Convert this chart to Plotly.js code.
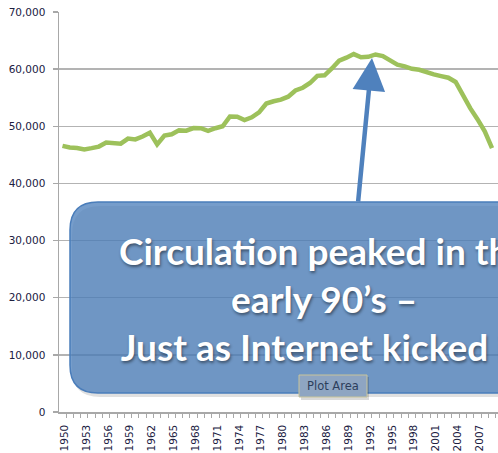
<!DOCTYPE html>
<html>
<head>
<meta charset="utf-8">
<script src="https://cdn.plot.ly/plotly-3.0.1.min.js"></script>
<style>
html,body{margin:0;padding:0;overflow:hidden;background:#fff;}
#chart{width:498px;height:453px;}
</style>
</head>
<body>
<div id="chart"></div>
<script>
// Sunday circulation (thousands), 1950-2009
const years = [1950,1951,1952,1953,1954,1955,1956,1957,1958,1959,
               1960,1961,1962,1963,1964,1965,1966,1967,1968,1969,
               1970,1971,1972,1973,1974,1975,1976,1977,1978,1979,
               1980,1981,1982,1983,1984,1985,1986,1987,1988,1989,
               1990,1991,1992,1993,1994,1995,1996,1997,1998,1999,
               2000,2001,2002,2003,2004,2005,2006,2007,2008,2009];
const circulation = [46582,46279,46210,45949,46176,46448,47162,47044,46955,47848,
                     47699,48216,48888,46830,48383,48600,49282,49224,49693,49675,
                     49217,49665,50001,51717,51679,51096,51565,52429,53990,54380,
                     54676,55180,56261,56747,57574,58826,58925,60112,61474,62008,
                     62635,62068,62160,62566,62294,61529,60798,60486,60066,59894,
                     59421,59090,58780,58495,57754,55270,53179,51246,49115,46164];
const xTickVals = [1950,1953,1956,1959,1962,1965,1968,1971,1974,1977,1980,1983,1986,1989,1992,1995,1998,2001,2004,2007];
const xTickText = xTickVals.map(String);
const yTickVals = [0,10000,20000,30000,40000,50000,60000,70000];
const yTickText = ['0','10,000','20,000','30,000','40,000','50,000','60,000','70,000'];
const calloutText = 'Circulation peaked in the<br>early 90\u2019s \u2013<br>Just as Internet kicked in';

// callout geometry (pixels -> paper)
const L = 59, W = 439, T = 12, H = 400;
const px = v => (v - L) / W;
const py = v => (T + H - v) / H;
function roundRect(x0, y0, x1, y1, r) {
  const X0 = px(x0), X1 = px(x1), Yt = py(y0), Yb = py(y1);
  const rx = r / W, ry = r / H;
  return `M ${X0+rx},${Yt} L ${X1-rx},${Yt} Q ${X1},${Yt} ${X1},${Yt-ry} L ${X1},${Yb+ry} Q ${X1},${Yb} ${X1-rx},${Yb} ` +
         `L ${X0+rx},${Yb} Q ${X0},${Yb} ${X0},${Yb+ry} L ${X0},${Yt-ry} Q ${X0},${Yt} ${X0+rx},${Yt} Z`;
}

const trace = {
  x: years, y: circulation, type: 'scatter', mode: 'lines',
  line: {color: '#9dc15b', width: 4.5},
  hoverinfo: 'skip'
};

const tickFont = {family: 'DejaVu Sans, sans-serif', size: 10.5, color: '#20203f'};

const layout = {
  width: 498, height: 453,
  margin: {l: L, r: 0, t: T, b: 453 - T - H, pad: 0},
  paper_bgcolor: '#ffffff', plot_bgcolor: '#ffffff',
  showlegend: false,
  xaxis: {
    range: [1949.52, 2009.82], tickmode: 'array', tickvals: xTickVals, ticktext: xTickText,
    tickangle: -90, tickfont: tickFont, ticks: '', showgrid: false, zeroline: false,
    showline: true, linecolor: '#a8a8a8', linewidth: 1.5,
    minor: {ticks: 'outside', ticklen: 4, tickcolor: '#a8a8a8', tickwidth: 1, tick0: 1949.5, dtick: 1, showgrid: false},
    ticklabelstandoff: 7, ticklabelshift: 2, fixedrange: true
  },
  yaxis: {
    range: [0, 70000], tickmode: 'array', tickvals: yTickVals, ticktext: yTickText,
    tickfont: tickFont, ticks: 'outside', ticklen: 5, tickcolor: '#a8a8a8', tickwidth: 1.5,
    showgrid: true, gridcolor: '#b3b3b3', gridwidth: 1.5, zeroline: false,
    showline: true, linecolor: '#a8a8a8', linewidth: 1.5, ticklabelstandoff: 5, fixedrange: true
  },
  shapes: [
    {type: 'path', xref: 'paper', yref: 'paper', layer: 'above', path: roundRect(72, 206, 584, 397, 28),
     fillcolor: 'rgba(0,0,0,0.12)', line: {width: 0}},
    {type: 'path', xref: 'paper', yref: 'paper', layer: 'above', path: roundRect(70, 202, 580, 393, 28),
     fillcolor: 'rgba(79,129,189,0.78)', line: {color: '#4a7dba', width: 1.5}},
    {type: 'rect', xref: 'paper', yref: 'paper', layer: 'above',
     x0: px(301), x1: px(369), y0: py(377), y1: py(400), fillcolor: 'rgba(0,0,0,0.15)', line: {width: 0}},
    {type: 'rect', xref: 'paper', yref: 'paper', layer: 'above',
     x0: px(299), x1: px(367), y0: py(375), y1: py(397), fillcolor: '#8ea5c2', line: {color: '#c9c49a', width: 1}}
  ],
  annotations: [
    {xref: 'paper', yref: 'paper', x: px(372), y: py(58), text: '', showarrow: true,
     axref: 'pixel', ayref: 'pixel', ax: -14, ay: 145, arrowhead: 2, arrowsize: 1.45, arrowwidth: 4.5,
     arrowcolor: '#4f81bd', standoff: 0},
    {xref: 'paper', yref: 'paper', x: px(324), y: py(298), xanchor: 'center', yanchor: 'middle',
     text: calloutText, showarrow: false, align: 'center',
     font: {family: 'Lato, Carlito, sans-serif', size: 37, color: '#ffffff', weight: 'bold',
            shadow: '1px 2px 3px rgba(0,0,0,0.45)'}},
    {xref: 'paper', yref: 'paper', x: px(333), y: py(386), xanchor: 'center', yanchor: 'middle',
     text: 'Plot Area', showarrow: false,
     font: {family: 'DejaVu Sans, sans-serif', size: 11.5, color: '#2c3e5c'}}
  ]
};

Plotly.newPlot('chart', [trace], layout, {displayModeBar: false, staticPlot: true});
</script>
</body>
</html>
